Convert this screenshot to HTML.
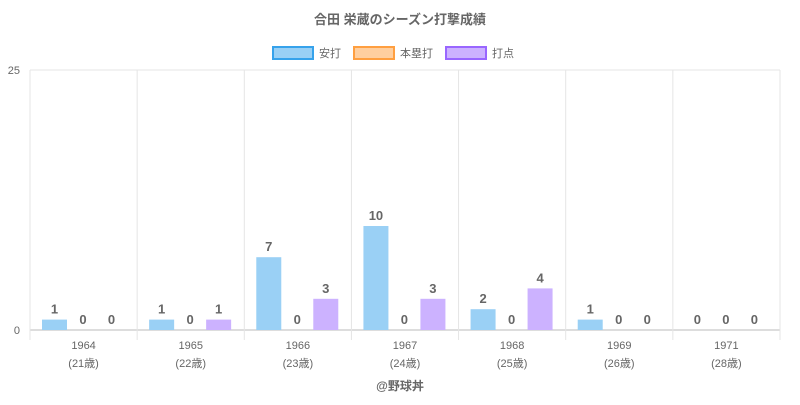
<!DOCTYPE html>
<html><head><meta charset="utf-8"><style>
body{margin:0;background:#fff;}
svg text{font-family:"Liberation Sans","Noto Sans CJK JP",sans-serif;}
</style></head><body>
<svg id="c" width="800" height="400" xmlns="http://www.w3.org/2000/svg">
<text x="400" y="24" text-anchor="middle" font-size="13" font-weight="bold" fill="#666">合田 栄蔵のシーズン打撃成績</text>
<g>
<g><rect x="273" y="47" width="40" height="12" fill="#9ad0f5" stroke="#36a2eb" stroke-width="2"/><text x="319" y="57" font-size="11" fill="#666">安打</text></g>
<g><rect x="354" y="47" width="40" height="12" fill="#ffcf9f" stroke="#ff9f40" stroke-width="2"/><text x="400" y="57" font-size="11" fill="#666">本塁打</text></g>
<g><rect x="446" y="47" width="40" height="12" fill="#ccb2ff" stroke="#9966ff" stroke-width="2"/><text x="492" y="57" font-size="11" fill="#666">打点</text></g>
</g>
<g id="grid"></g><g id="bars"></g>
<text x="400" y="390" text-anchor="middle" font-size="12" font-weight="bold" fill="#666">@野球丼</text>
</svg>
<script>
const years=["1964","1965","1966","1967","1968","1969","1971"];
const ages=["(21歳)","(22歳)","(23歳)","(24歳)","(25歳)","(26歳)","(28歳)"];
const hits=[1,1,7,10,2,1,0];
const homeruns=[0,0,0,0,0,0,0];
const rbi=[0,1,3,3,4,0,0];
const yTicks=[0,25];
const L=30,R=780,T=70,B=330,yMax=25;
const NS="http://www.w3.org/2000/svg";
const gw=(R-L)/years.length;
const y=v=>B-(B-T)*v/yMax;
const xg=i=>L+gw*i;
function mk(tag,attrs,parent,txt){const e=document.createElementNS(NS,tag);for(const k in attrs)e.setAttribute(k,attrs[k]);if(txt!==undefined)e.textContent=txt;parent.appendChild(e);return e;}
const grid=document.getElementById('grid'),bars=document.getElementById('bars');
yTicks.forEach(t=>{
 const l=mk('line',{x1:L,x2:R,y1:y(t),y2:y(t),stroke:t===0?'#bbb':'#e5e5e5'},grid);
 
 
 const tx=mk('text',{x:L-10,y:y(t)+4,'text-anchor':'end','font-size':11,fill:'#666'},grid,t);
 
 
});
for(let i=0;i<=years.length;i++){
 const l=mk('line',{x1:xg(i),x2:xg(i),y1:T,y2:B+10,stroke:'#e5e5e5'},grid);
 
 
}
const series=[[hits,'#9ad0f5','hits'],[homeruns,'#ffcf9f','homeruns'],[rbi,'#ccb2ff','rbi']];
const offs=[12,40.5,69],bw=25;
years.forEach((yr,i)=>{
 const t1=mk('text',{x:xg(i)+gw/2,y:349,'text-anchor':'middle','font-size':11,fill:'#666'},grid,yr);
 
 
 const t2=mk('text',{x:xg(i)+gw/2,y:367,'text-anchor':'middle','font-size':11,fill:'#666'},grid,ages[i]);
 
 
 series.forEach((s,j)=>{
  const v=s[0][i],x=xg(i)+offs[j];
  const r=mk('rect',{x:x,y:y(v),width:bw,height:B-y(v),fill:s[1]},bars);
  
  
  const lb=mk('text',{x:x+bw/2,y:y(v)-6,'text-anchor':'middle','font-size':13,'font-weight':'bold',fill:'#666'},bars,v);
  
  
 });
});
</script>
</body></html>
